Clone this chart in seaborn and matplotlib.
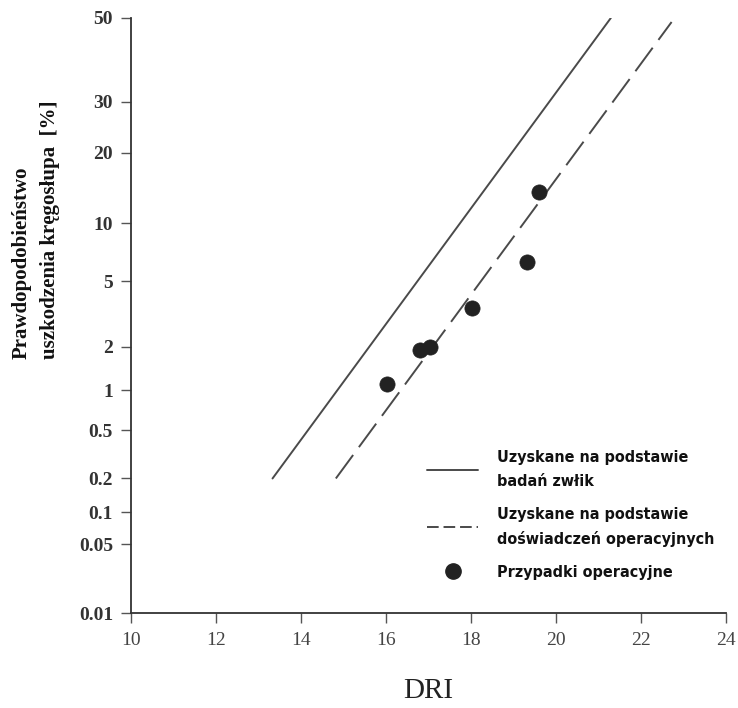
import math
import statistics
import numpy as np
import pandas as pd
import matplotlib
matplotlib.use("Agg")
import matplotlib.pyplot as plt
from matplotlib.lines import Line2D
from matplotlib.ticker import FixedLocator, FixedFormatter, NullLocator
import seaborn as sns

# ---- data ----
dri_cases = [16.02, 16.80, 17.04, 18.02, 19.32, 19.60]
prob_cases = [1.1, 1.9, 2.0, 3.5, 6.4, 13.8]

dri_cadaver = [13.33, 21.29]
prob_cadaver = [0.2, 50.0]

dri_operational = [14.82, 22.72]
prob_operational = [0.2, 49.0]

y_ticks = [0.01, 0.05, 0.1, 0.2, 0.5, 1, 2, 5, 10, 20, 30, 50]
y_tick_labels = ["0.01", "0.05", "0.1", "0.2", "0.5", "1", "2", "5", "10", "20", "30", "50"]
x_ticks = [10, 12, 14, 16, 18, 20, 22, 24]

legend_labels = ["Uzyskane na podstawie\nbadań zwłik",
                 "Uzyskane na podstawie\ndoświadczeń operacyjnych",
                 "Przypadki operacyjne"]

# ---- probability (probit) scale ----
_nd = statistics.NormalDist()
_ppf = np.vectorize(_nd.inv_cdf, otypes=[float])
_erf = np.vectorize(math.erf, otypes=[float])


def fwd(p):
    p = np.asarray(p, dtype=float)
    q = np.clip(p / 100.0, 1e-9, 1 - 1e-9)
    if q.size == 0:
        return q
    return _ppf(q)


def inv(z):
    z = np.asarray(z, dtype=float)
    if z.size == 0:
        return z
    return 100.0 * 0.5 * (1.0 + _erf(z / np.sqrt(2.0)))


sns.set_style("white")
plt.rcParams["font.family"] = ["Liberation Serif", "DejaVu Serif"]

fig = plt.figure(figsize=(7.38, 7.08), dpi=100)
ax = fig.add_axes([131 / 738, (708 - 613) / 708, (726 - 131) / 738, (613 - 18) / 708])

df_cases = pd.DataFrame({"DRI": dri_cases, "P": prob_cases})
df_cad = pd.DataFrame({"DRI": dri_cadaver, "P": prob_cadaver})
df_op = pd.DataFrame({"DRI": dri_operational, "P": prob_operational})

line_col = "#4a4a4a"
sns.lineplot(data=df_cad, x="DRI", y="P", ax=ax, color=line_col, lw=1.4, sort=False)
sns.lineplot(data=df_op, x="DRI", y="P", ax=ax, color=line_col, lw=1.4, sort=False,
             dashes=False, linestyle=(0, (15, 5)))
sns.scatterplot(data=df_cases, x="DRI", y="P", ax=ax, color="#222222", s=120,
                edgecolor="#222222", linewidth=0.5, zorder=5)

ax.set_yscale("function", functions=(fwd, inv))
ax.set_ylim(0.01, 50)
ax.set_xlim(10, 24)
ax.yaxis.set_major_locator(FixedLocator(y_ticks))
ax.yaxis.set_major_formatter(FixedFormatter(y_tick_labels))
ax.yaxis.set_minor_locator(NullLocator())
ax.set_xticks(x_ticks)
ax.set_xticklabels([str(v) for v in x_ticks])

for s in ["top", "right"]:
    ax.spines[s].set_visible(False)
for s in ["left", "bottom"]:
    ax.spines[s].set_color("#333333")
    ax.spines[s].set_linewidth(1.3)

ax.tick_params(axis="both", which="major", direction="out", length=7, width=1.0,
               color="#555555", left=True, bottom=True)
ax.tick_params(axis="y", labelsize=14, pad=6, labelcolor="#333333")
ax.tick_params(axis="x", labelsize=14, pad=7, labelcolor="#444444")
for t in ax.get_yticklabels():
    t.set_fontweight("bold")

ax.set_ylabel("")
ax.set_xlabel("DRI", fontsize=21, color="#222222")
ax.xaxis.set_label_coords(0.5, -0.110)

fig.text(36 / 738, 1 - 230 / 708, "Prawdopodobieństwo\nuszkodzenia kręgosłupa  [%]",
         rotation=90, ha="center", va="center", multialignment="left",
         fontsize=15, fontweight="bold", color="#111111", linespacing=1.55)

handles = [Line2D([], [], color=line_col, lw=1.4),
           Line2D([], [], color=line_col, lw=1.4, linestyle=(0, (6, 2.5))),
           Line2D([], [], color="#222222", marker="o", linestyle="none", markersize=11)]
leg = ax.legend(handles, legend_labels, loc="upper left",
                bbox_to_anchor=(427 / 738, (708 - 450) / 708),
                bbox_transform=fig.transFigure, frameon=False, borderpad=0,
                borderaxespad=0, handlelength=3.2, handletextpad=1.2,
                labelspacing=1.1,
                prop={"family": ["DejaVu Sans"], "weight": "bold", "size": 11.5,
                      "stretch": "condensed"})
for t in leg.get_texts():
    t.set_linespacing(1.75)
    t.set_color("#111111")

fig.savefig("out.png", dpi=100, facecolor="white")
